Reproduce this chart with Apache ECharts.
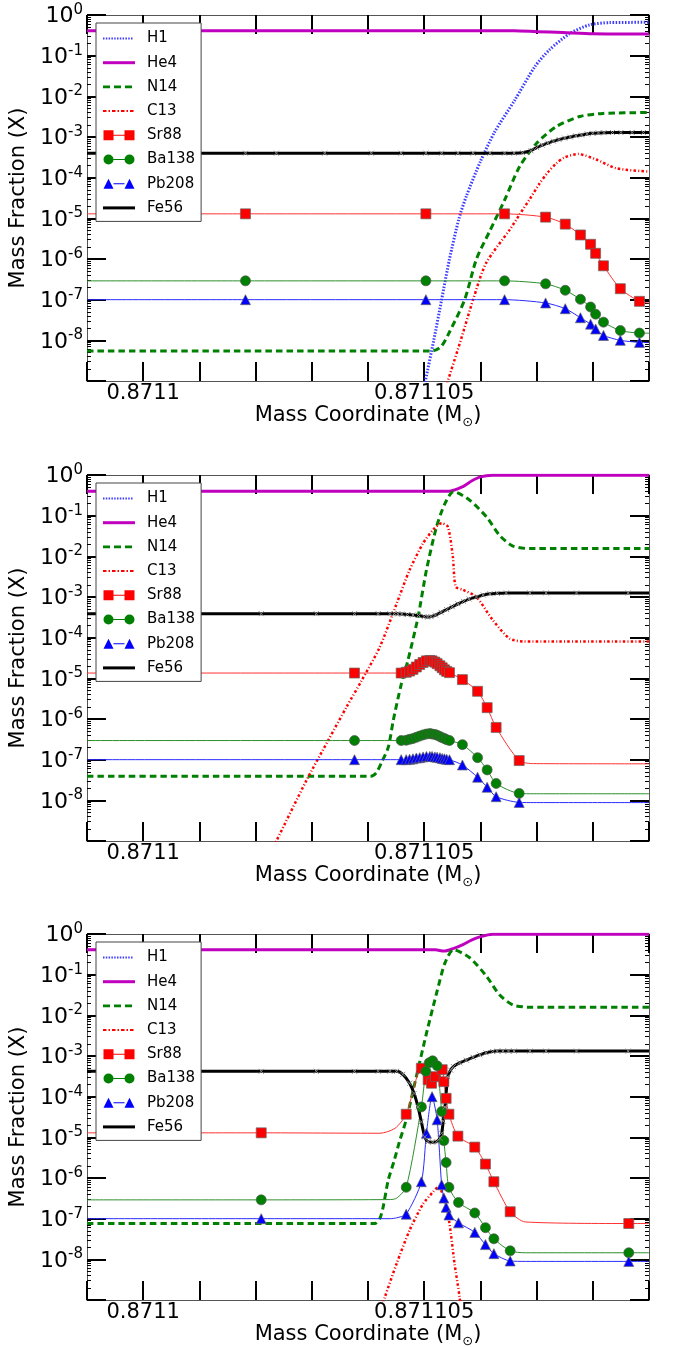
<!DOCTYPE html>
<html><head><meta charset="utf-8">
<script src="https://cdn.jsdelivr.net/npm/echarts@6/dist/echarts.min.js"></script>
<style>html,body{margin:0;padding:0;background:#fff}#c{width:673px;height:1347px}</style>
</head><body><div id="c"></div>
<script>
// ---------------- DATA (mass coordinate in Msun, mass fraction) ----------------
const NAMES = ['H1','He4','N14','C13','Sr88','Ba138','Pb208','Fe56'];
const X_MIN = 0.871099, X_MAX = 0.871109, X_STEP = 0.000001;
const Y_MIN = 1e-9, Y_MAX = 1;

// ---- Panel 1 ----
const h1_p1 = [[0.87110487,1e-10],[0.87110502,1e-9],[0.87110517,1e-8],[0.87110531,1e-7],[0.87110545,1e-6],[0.87110562,1e-5],[0.87110575,3.5e-5],[0.87110600,2.5e-4],[0.87110625,1.3e-3],[0.87110661,8e-3],[0.87110697,5.4e-2],[0.87110723,0.14],[0.87110759,0.35],[0.87110794,0.57],[0.87110830,0.65],[0.87110900,0.66]];
const he4_p1 = [[0.87109900,0.41],[0.87110660,0.41],[0.87110700,0.39],[0.87110747,0.37],[0.87110800,0.345],[0.87110900,0.34]];
const n14_p1 = [[0.87109900,5.5e-9],[0.87110515,5.5e-9],[0.87110530,7e-9],[0.87110545,1.6e-8],[0.87110572,1e-7],[0.87110593,1e-6],[0.87110617,5e-6],[0.87110643,2.8e-5],[0.87110670,1.9e-4],[0.87110700,7e-4],[0.87110735,1.8e-3],[0.87110777,3.2e-3],[0.87110818,3.8e-3],[0.87110900,4e-3]];
const c13_p1 = [[0.87110519,1e-10],[0.87110542,1e-9],[0.87110565,1e-8],[0.87110587,1e-7],[0.87110610,7.9e-7],[0.87110652,5.2e-6],[0.87110670,1.26e-5],[0.87110688,3.0e-5],[0.87110705,7.1e-5],[0.87110720,1.35e-4],[0.87110735,2.24e-4],[0.87110750,3.16e-4],[0.87110774,3.8e-4],[0.87110806,2.8e-4],[0.87110842,1.7e-4],[0.87110900,1.41e-4]];
const sr88M_p1 = [[0.87110182,1.29e-5],[0.87110503,1.29e-5],[0.87110643,1.29e-5],[0.87110716,1.07e-5],[0.87110751,7.2e-6],[0.87110778,3.9e-6],[0.87110796,2.3e-6],[0.87110805,1.38e-6],[0.87110819,6.8e-7],[0.87110849,1.86e-7],[0.87110883,9.1e-8]];
const sr88L_p1 = [[0.87109900,1.29e-5],[0.87110900,8.3e-8]];
const ba138M_p1 = [[0.87110182,2.9e-7],[0.87110503,2.9e-7],[0.87110643,2.9e-7],[0.87110716,2.45e-7],[0.87110751,1.7e-7],[0.87110778,1.02e-7],[0.87110796,6.6e-8],[0.87110805,4.4e-8],[0.87110819,2.8e-8],[0.87110849,1.74e-8],[0.87110883,1.51e-8]];
const ba138L_p1 = [[0.87109900,2.9e-7],[0.87110900,1.5e-8]];
const pb208M_p1 = [[0.87110182,1e-7],[0.87110503,1e-7],[0.87110643,1e-7],[0.87110716,8.3e-8],[0.87110751,6.0e-8],[0.87110778,3.6e-8],[0.87110796,2.5e-8],[0.87110805,1.9e-8],[0.87110819,1.32e-8],[0.87110849,1.0e-8],[0.87110883,8.9e-9]];
const pb208L_p1 = [[0.87109900,1e-7],[0.87110900,8.8e-9]];
const fe56M_p1 = [[0.87110182,4.0e-4],[0.87110237,4.0e-4],[0.87110323,4.0e-4],[0.87110406,4.0e-4],[0.87110459,4.0e-4],[0.87110503,4.0e-4],[0.87110531,4.0e-4],[0.87110560,4.0e-4],[0.87110587,4.0e-4],[0.87110617,4.0e-4],[0.87110643,4.0e-4],[0.87110660,4.0e-4],[0.87110675,4.1e-4],[0.87110690,4.6e-4],[0.87110700,5.5e-4],[0.87110710,6.3e-4],[0.87110720,7.1e-4],[0.87110730,7.9e-4],[0.87110740,8.7e-4],[0.87110750,9.4e-4],[0.87110760,1.0e-3],[0.87110770,1.07e-3],[0.87110780,1.12e-3],[0.87110790,1.19e-3],[0.87110800,1.23e-3],[0.87110810,1.26e-3],[0.87110820,1.28e-3],[0.87110835,1.29e-3],[0.87110850,1.29e-3],[0.87110870,1.29e-3],[0.87110890,1.29e-3]];
const fe56L_p1 = [[0.87109900,4.0e-4],[0.87110900,1.29e-3]];

// ---- Panel 2 ----
const h1_p2 = [];
const he4_p2 = [[0.87109900,0.40],[0.87110545,0.40],[0.87110569,0.52],[0.87110585,0.72],[0.87110600,0.90],[0.87110622,0.98],[0.87110900,0.99]];
const n14_p2 = [[0.87109900,3.9e-8],[0.87110405,3.9e-8],[0.87110415,4.8e-8],[0.87110424,8.5e-8],[0.87110436,2.0e-7],[0.87110445,9.3e-7],[0.87110459,7e-6],[0.87110471,2.75e-5],[0.87110489,3.2e-4],[0.87110504,4.6e-3],[0.87110522,5.4e-2],[0.87110537,0.2],[0.87110552,0.39],[0.87110581,0.24],[0.87110611,9.3e-2],[0.87110634,3.3e-2],[0.87110658,1.78e-2],[0.87110688,1.55e-2],[0.87110900,1.55e-2]];
const c13_p2 = [[0.87110201,1e-10],[0.87110237,1e-9],[0.87110290,3.0e-8],[0.87110329,2.95e-7],[0.87110362,2.0e-6],[0.87110388,8.5e-6],[0.87110421,5.9e-5],[0.87110451,6.9e-4],[0.87110474,4.6e-3],[0.87110498,2.1e-2],[0.87110516,4.5e-2],[0.87110531,6.5e-2],[0.87110542,5.4e-2],[0.87110551,9.8e-3],[0.87110556,1.8e-3],[0.87110569,1.5e-3],[0.87110593,1.0e-3],[0.87110622,2.7e-4],[0.87110652,9.5e-5],[0.87110676,8.1e-5],[0.87110900,8.1e-5]];
const sr88M_p2 = [[0.87110376,1.35e-5],[0.87110459,1.35e-5],[0.87110468,1.41e-5],[0.87110474,1.51e-5],[0.87110480,1.66e-5],[0.87110486,1.9e-5],[0.87110492,2.19e-5],[0.87110498,2.45e-5],[0.87110504,2.69e-5],[0.87110510,2.75e-5],[0.87110514,2.69e-5],[0.87110519,2.51e-5],[0.87110523,2.29e-5],[0.87110528,2.04e-5],[0.87110532,1.82e-5],[0.87110536,1.62e-5],[0.87110540,1.48e-5],[0.87110545,1.38e-5],[0.87110568,9.3e-6],[0.87110595,4.8e-6],[0.87110612,1.9e-6],[0.87110628,6.2e-7],[0.87110669,9.5e-8]];
const sr88L_p2 = [[0.87109900,1.35e-5],[0.87110695,8.0e-8],[0.87110900,7.9e-8]];
const ba138M_p2 = [[0.87110376,2.95e-7],[0.87110459,2.95e-7],[0.87110468,3.0e-7],[0.87110474,3.16e-7],[0.87110480,3.3e-7],[0.87110486,3.55e-7],[0.87110492,3.8e-7],[0.87110498,4.07e-7],[0.87110504,4.27e-7],[0.87110510,4.37e-7],[0.87110514,4.27e-7],[0.87110519,4.17e-7],[0.87110523,3.98e-7],[0.87110528,3.7e-7],[0.87110532,3.47e-7],[0.87110536,3.3e-7],[0.87110540,3.1e-7],[0.87110545,2.95e-7],[0.87110568,2.34e-7],[0.87110595,1.12e-7],[0.87110612,5.6e-8],[0.87110628,2.6e-8],[0.87110669,1.48e-8]];
const ba138L_p2 = [[0.87109900,2.95e-7],[0.87110695,1.45e-8],[0.87110900,1.45e-8]];
const pb208M_p2 = [[0.87110376,1.0e-7],[0.87110459,1.0e-7],[0.87110468,1.0e-7],[0.87110474,1.02e-7],[0.87110480,1.05e-7],[0.87110486,1.1e-7],[0.87110492,1.12e-7],[0.87110498,1.17e-7],[0.87110504,1.2e-7],[0.87110510,1.2e-7],[0.87110514,1.2e-7],[0.87110519,1.17e-7],[0.87110523,1.15e-7],[0.87110528,1.12e-7],[0.87110532,1.07e-7],[0.87110536,1.05e-7],[0.87110540,1.02e-7],[0.87110545,1.0e-7],[0.87110568,7.4e-8],[0.87110595,3.7e-8],[0.87110612,2.1e-8],[0.87110628,1.23e-8],[0.87110669,8.9e-9]];
const pb208L_p2 = [[0.87109900,1e-7],[0.87110695,8.8e-9],[0.87110900,8.8e-9]];
const fe56M_p2 = [[0.87110210,3.9e-4],[0.87110308,3.9e-4],[0.87110376,3.9e-4],[0.87110418,3.9e-4],[0.87110439,3.9e-4],[0.87110447,3.9e-4],[0.87110453,3.85e-4],[0.87110460,3.8e-4],[0.87110470,3.7e-4],[0.87110480,3.6e-4],[0.87110490,3.5e-4],[0.87110500,3.3e-4],[0.87110506,3.2e-4],[0.87110512,3.3e-4],[0.87110520,3.6e-4],[0.87110530,4.2e-4],[0.87110540,4.9e-4],[0.87110550,5.75e-4],[0.87110560,6.8e-4],[0.87110570,7.8e-4],[0.87110580,8.9e-4],[0.87110593,1.0e-3],[0.87110605,1.12e-3],[0.87110617,1.2e-3],[0.87110630,1.23e-3],[0.87110646,1.26e-3],[0.87110688,1.26e-3],[0.87110717,1.26e-3],[0.87110771,1.26e-3],[0.87110863,1.26e-3]];
const fe56L_p2 = [[0.87109900,3.9e-4],[0.87110900,1.26e-3]];

// ---- Panel 3 ----
const h1_p3 = [];
const he4_p3 = [[0.87109900,0.41],[0.87110520,0.41],[0.87110535,0.38],[0.87110550,0.43],[0.87110569,0.55],[0.87110585,0.72],[0.87110599,0.85],[0.87110622,0.98],[0.87110900,0.99]];
const n14_p3 = [[0.87109900,7.6e-8],[0.87110412,7.6e-8],[0.87110421,1.0e-7],[0.87110427,1.95e-7],[0.87110436,8.9e-7],[0.87110446,2.5e-6],[0.87110456,7.9e-6],[0.87110468,2.7e-5],[0.87110486,3.1e-4],[0.87110504,3.6e-3],[0.87110522,3.5e-2],[0.87110537,0.195],[0.87110552,0.41],[0.87110581,0.26],[0.87110611,9.1e-2],[0.87110634,3.2e-2],[0.87110658,1.8e-2],[0.87110688,1.58e-2],[0.87110900,1.58e-2]];
const c13_p3 = [[0.87110405,1e-10],[0.87110430,1.17e-9],[0.87110451,7.9e-9],[0.87110474,5.2e-8],[0.87110498,2.3e-7],[0.87110516,4.6e-7],[0.87110525,6.0e-7],[0.87110537,2.9e-7],[0.87110545,7.6e-8],[0.87110554,7.9e-9],[0.87110563,1.17e-9],[0.87110572,1e-10]];
const sr88M_p3 = [[0.87110210,1.29e-5],[0.87110468,3.7e-5],[0.87110495,5.0e-4],[0.87110507,2.6e-4],[0.87110513,2.14e-4],[0.87110520,3.1e-4],[0.87110532,4.6e-4],[0.87110535,2.34e-4],[0.87110539,9.1e-5],[0.87110544,3.7e-5],[0.87110560,1.07e-5],[0.87110590,5.75e-6],[0.87110609,2.2e-6],[0.87110624,8.1e-7],[0.87110653,1.48e-7],[0.87110864,7.6e-8]];
const sr88L_p3 = [[0.87109900,1.29e-5],[0.87110421,1.26e-5],[0.87110448,1.66e-5],[0.87110680,8.3e-8],[0.87110900,7.6e-8]];
const ba138M_p3 = [[0.87110210,2.9e-7],[0.87110468,5.9e-7],[0.87110495,5.6e-5],[0.87110503,4.2e-4],[0.87110509,6.8e-4],[0.87110515,7.6e-4],[0.87110523,5.75e-4],[0.87110531,4.3e-5],[0.87110535,8.3e-6],[0.87110539,2.4e-6],[0.87110544,5.9e-7],[0.87110561,2.5e-7],[0.87110590,1.38e-7],[0.87110609,6.0e-8],[0.87110624,3.2e-8],[0.87110653,1.62e-8],[0.87110864,1.45e-8]];
const ba138L_p3 = [[0.87109900,2.9e-7],[0.87110440,2.95e-7],[0.87110451,3.2e-7],[0.87110680,1.45e-8],[0.87110900,1.45e-8]];
const pb208M_p3 = [[0.87110210,1.0e-7],[0.87110468,1.29e-7],[0.87110495,8.1e-7],[0.87110504,1.26e-5],[0.87110514,1.0e-4],[0.87110523,2.7e-5],[0.87110531,6.8e-7],[0.87110535,3.2e-7],[0.87110539,1.9e-7],[0.87110544,1.23e-7],[0.87110561,7.9e-8],[0.87110590,4.6e-8],[0.87110609,2.3e-8],[0.87110624,1.38e-8],[0.87110653,9.1e-9],[0.87110864,8.9e-9]];
const pb208L_p3 = [[0.87109900,1.0e-7],[0.87110440,1.0e-7],[0.87110451,1.05e-7],[0.87110680,8.9e-9],[0.87110900,8.9e-9]];
const fe56M_p3 = [[0.87110210,4.2e-4],[0.87110308,4.2e-4],[0.87110376,4.2e-4],[0.87110418,4.2e-4],[0.87110439,4.2e-4],[0.87110451,4.2e-4],[0.87110462,3.55e-4],[0.87110474,2.14e-4],[0.87110482,1.2e-4],[0.87110489,5.6e-5],[0.87110495,2.4e-5],[0.87110501,1.02e-5],[0.87110507,7.8e-6],[0.87110515,7.6e-6],[0.87110522,7.8e-6],[0.87110528,9.5e-6],[0.87110531,1.26e-5],[0.87110534,2.5e-5],[0.87110537,5.6e-5],[0.87110542,3.1e-4],[0.87110547,4.5e-4],[0.87110552,5.5e-4],[0.87110563,6.8e-4],[0.87110575,7.9e-4],[0.87110587,9.3e-4],[0.87110599,1.07e-3],[0.87110610,1.2e-3],[0.87110622,1.29e-3],[0.87110630,1.32e-3],[0.87110640,1.32e-3],[0.87110650,1.32e-3],[0.87110660,1.32e-3],[0.87110688,1.32e-3],[0.87110717,1.32e-3],[0.87110771,1.32e-3],[0.87110863,1.32e-3]];
const fe56L_p3 = [[0.87109900,4.2e-4],[0.87110900,1.32e-3]];

const PANELS = [
  {H1:[h1_p1],He4:[he4_p1],N14:[n14_p1],C13:[c13_p1],Sr88:[sr88M_p1,sr88L_p1],Ba138:[ba138M_p1,ba138L_p1],Pb208:[pb208M_p1,pb208L_p1],Fe56:[fe56M_p1,fe56L_p1]},
  {H1:[h1_p2],He4:[he4_p2],N14:[n14_p2],C13:[c13_p2],Sr88:[sr88M_p2,sr88L_p2],Ba138:[ba138M_p2,ba138L_p2],Pb208:[pb208M_p2,pb208L_p2],Fe56:[fe56M_p2,fe56L_p2]},
  {H1:[h1_p3],He4:[he4_p3],N14:[n14_p3],C13:[c13_p3],Sr88:[sr88M_p3,sr88L_p3],Ba138:[ba138M_p3,ba138L_p3],Pb208:[pb208M_p3,pb208L_p3],Fe56:[fe56M_p3,fe56L_p3]}
];

// ---------------- STYLE / LAYOUT ----------------
const FONT = 'DejaVu Sans';
const GRID_TOPS = [15, 475, 934];
const GRID_H = 366;
const STYLE = {
  H1:    {color:'#3c3cff', width:3,   type:[1.5,1.6]},
  He4:   {color:'#bf00bf', width:3,   type:'solid'},
  N14:   {color:'#008000', width:3,   type:[6.5,4]},
  C13:   {color:'#ff0000', width:2.5, type:[2.5,2.2,1,2.2]},
  Sr88:  {color:'#ff3030', width:1,   symbol:'rect',     size:10, fill:'#ff0000', border:'#666'},
  Ba138: {color:'#2b8f2b', width:1,   symbol:'circle',   size:10, fill:'#008000', border:'#555'},
  Pb208: {color:'#2a2aff', width:1,   symbol:'triangle', size:10, fill:'#0000ff', border:'#666'},
  Fe56:  {color:'#000000', width:3,   symbol:'path://M0,0L8,8M8,0L0,8', size:5, fill:'#888', border:'#888'}
};

function dotsIcon(){ let s='M0,0M32,12'; for(let x=0;x<=30.5;x+=2.8){ s+='M'+x.toFixed(1)+',5h1.5v2h-1.5z'; } return 'path://'+s; }
const ICONS = {
  H1: dotsIcon(),
  He4: 'path://M0,0M32,12M0,4.5h32v3h-32z',
  N14: 'path://M0,0M32,12M0,4.7h7v2.6h-7zM11,4.7h7v2.6h-7zM22,4.7h7v2.6h-7z',
  C13: 'path://M0,0M32,12M0,5h3.5v2h-3.5zM5.5,5h1.5v2h-1.5zM9,5h3.5v2h-3.5zM14.5,5h1.5v2h-1.5zM18,5h3.5v2h-3.5zM23.5,5h1.5v2h-1.5zM27,5h3.5v2h-3.5z',
  Sr88: 'path://M0,0M32,12M0.5,1h10v10h-10zM10.5,5.5h11v1h-11zM21.5,1h10v10h-10z',
  Ba138: 'path://M0,0M32,12M0.5,6a5,5 0 1,0 10,0a5,5 0 1,0 -10,0zM10.5,5.5h11v1h-11zM21.5,6a5,5 0 1,0 10,0a5,5 0 1,0 -10,0z',
  Pb208: 'path://M0,0M32,12M5.5,1L10.5,11L0.5,11zM10.5,5.5h11v1h-11zM26.5,1L31.5,11L21.5,11z',
  Fe56: 'path://M0,0M32,12M0,4.5h32v3h-32z'
};
const ICON_COLORS = {H1:'#3c3cff',He4:'#bf00bf',N14:'#008000',C13:'#ff0000',Sr88:'#ff0000',Ba138:'#008000',Pb208:'#0000ff',Fe56:'#000000'};

function fmtX(v){ const k = Math.round(v*1e6); return (k % 5 === 0) ? String(k/1e6) : ''; }
function fmtY(v){ const e = Math.round(Math.log10(v)); if (e <= -9) return ''; return '{b|10}{s|' + e + '}'; }

const grids = [], xAxes = [], yAxes = [], legends = [], series = [];
const axisLineStyle = {color:'#555', width:1};
const tickStyle = {color:'#000', width:2};

GRID_TOPS.forEach((t, i) => {
  grids.push({left:87, right:24, top:t, height:GRID_H, containLabel:false, outerBoundsMode:'none'});
  const xBase = {type:'value', gridIndex:i, min:X_MIN, max:X_MAX, interval:X_STEP, splitLine:{show:false},
    axisLine:{show:true, onZero:false, lineStyle:axisLineStyle},
    axisTick:{show:true, inside:true, length:19, lineStyle:tickStyle}};
  xAxes.push(Object.assign({}, xBase, {position:'bottom',
    axisLabel:{formatter:fmtX, fontFamily:FONT, fontSize:21, color:'#000', margin:2, showMinLabel:true, showMaxLabel:true},
    name:'Mass Coordinate (M{sub|\u2299})', nameLocation:'middle', nameGap:20,
    nameTextStyle:{fontFamily:FONT, fontSize:21, color:'#000',
      rich:{sub:{fontFamily:FONT, fontSize:13, color:'#000', verticalAlign:'bottom', padding:[14,0,0,0]}}}}));
  xAxes.push(Object.assign({}, xBase, {position:'top', axisLabel:{show:false}}));
  const yBase = {type:'log', logBase:10, gridIndex:i, min:Y_MIN, max:Y_MAX, splitNumber:9, splitLine:{show:false},
    axisLine:{show:true, onZero:false, lineStyle:axisLineStyle},
    axisTick:{show:true, inside:true, length:19, lineStyle:tickStyle},
    minorTick:{show:true, splitNumber:9, length:4, lineStyle:{color:'#000', width:1}}};
  yAxes.push(Object.assign({}, yBase, {position:'left',
    axisLabel:{formatter:fmtY, margin:4, color:'#000', fontFamily:FONT, fontSize:22,
      rich:{b:{fontFamily:FONT, fontSize:22, color:'#000', verticalAlign:'bottom'},
            s:{fontFamily:FONT, fontSize:15, color:'#000', verticalAlign:'top', padding:[0,0,10,0]}}},
    name:'Mass Fraction (X)', nameLocation:'middle', nameGap:49,
    nameTextStyle:{fontFamily:FONT, fontSize:21, color:'#000'}}));
  yAxes.push(Object.assign({}, yBase, {position:'right', axisLabel:{show:false}}));

  legends.push({orient:'vertical', left:96, top:t+8, itemWidth:32, itemHeight:12, itemGap:9.2,
    padding:[8,6,6,7], backgroundColor:'#fff', borderColor:'#444', borderWidth:1, borderRadius:0,
    selectedMode:false, z:10,
    textStyle:{fontFamily:FONT, fontSize:15, color:'#000', padding:[0,0,0,7]},
    data: NAMES.map(n => ({name:n, icon:ICONS[n], itemStyle:{color:ICON_COLORS[n], borderWidth:0}}))});

  const P = PANELS[i];
  NAMES.forEach(n => {
    const st = STYLE[n];
    const arr = P[n];
    let data;
    if (arr.length === 2) {
      data = arr[0].map(p => ({value:p})).concat(arr[1].map(p => ({value:p, symbol:'none'})));
      data.sort((a, b) => a.value[0] - b.value[0]);
    } else {
      data = arr[0].map(p => ({value:p}));
    }
    series.push({type:'line', name:n, xAxisIndex:2*i, yAxisIndex:2*i, data,
      symbol: st.symbol || 'none', symbolSize: st.size || 0, showSymbol: !!st.symbol,
      smooth:0.25, clip:true, silent:true,
      lineStyle:{color:st.color, width:st.width, type:st.type || 'solid'},
      itemStyle:{color:st.fill || st.color, borderColor:st.border || st.color, borderWidth: st.symbol ? (n==='Fe56' ? 1 : 0.7) : 0},
      emphasis:{disabled:true}});
  });
});

const chart = echarts.init(document.getElementById('c'), null, {renderer:'canvas'});
chart.setOption({animation:false, backgroundColor:'#fff', grid:grids, xAxis:xAxes, yAxis:yAxes, legend:legends, series});
</script></body></html>
